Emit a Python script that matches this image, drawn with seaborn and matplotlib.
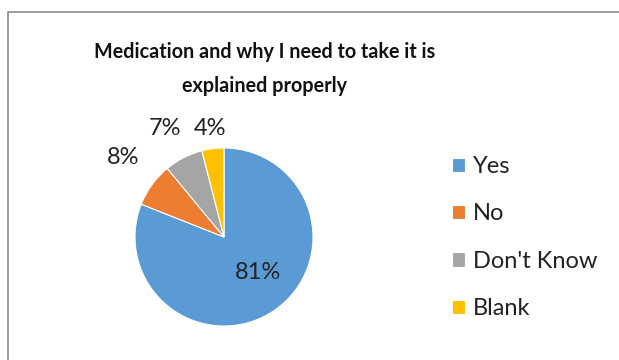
import matplotlib
matplotlib.use("Agg")
import matplotlib.pyplot as plt
from matplotlib.patches import Rectangle
import seaborn as sns

categories = ["Yes", "No", "Don't Know", "Blank"]
values = [81, 8, 7, 4]
pct_labels = ["81%", "8%", "7%", "4%"]
title = "Medication and why I need to take it is\nexplained properly"

sns.set_theme(style="white")
plt.rcParams['font.family'] = ['Lato', 'DejaVu Sans']
colors = ["#5B9BD5", "#ED7D31", "#A5A5A5", "#FFC000"]

W, H = 619, 360
fig = plt.figure(figsize=(W / 100, H / 100), dpi=100)
fig.patch.set_facecolor("white")

cx, cy, r = 224, 237, 89
ax = fig.add_axes([(cx - r) / W, (H - cy - r) / H, 2 * r / W, 2 * r / H])
wedges, _ = ax.pie(values, colors=colors, startangle=90, counterclock=False,
                   radius=1, wedgeprops=dict(edgecolor="white", linewidth=0.8))
ax.set_xlim(-1, 1)
ax.set_ylim(-1, 1)
ax.set_aspect("equal")
ax.axis("off")

label_pos = [(0.38, -0.40), (-1.13, 0.89), (-0.66, 1.22), (-0.16, 1.22)]
for (x, y), t in zip(label_pos, pct_labels):
    ax.text(x, y, t, ha="center", va="center", fontsize=17, color="#222222",
            clip_on=False)

fig.text(265 / W, 1 - 69 / H, title, ha="center", va="center", fontsize=14.2,
         fontweight="bold", color="#111111", linespacing=1.9)

leg = fig.legend(wedges, categories, loc="upper left",
                 bbox_to_anchor=(452 / W, 1 - 156 / H), frameon=False,
                 fontsize=17, handlelength=0.55, handleheight=0.55,
                 handletextpad=0.35, labelspacing=1.12, borderaxespad=0,
                 borderpad=0)
for t in leg.get_texts():
    t.set_color("#222222")

fig.patches.append(Rectangle((8 / W, -0.2), 2, (H - 12) / H + 0.2,
                             transform=fig.transFigure, fill=False,
                             edgecolor="#8C8C8C", linewidth=1.2))

fig.savefig("out.png", dpi=100, facecolor="white")
